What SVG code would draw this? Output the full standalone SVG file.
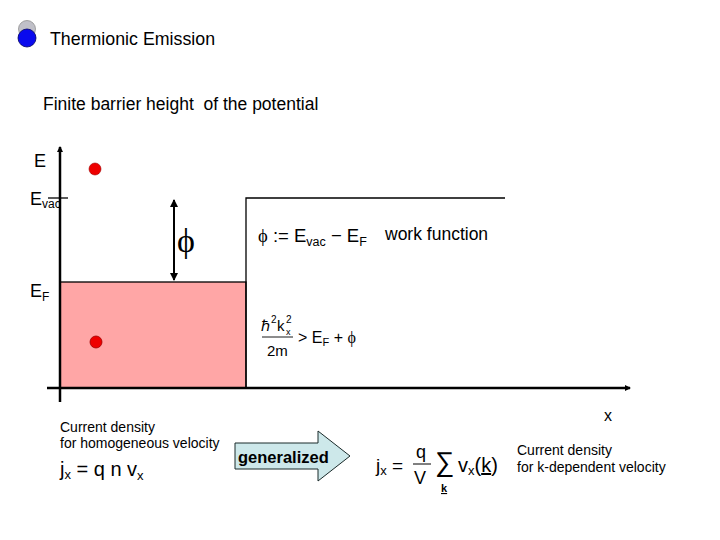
<svg xmlns="http://www.w3.org/2000/svg" width="720" height="540" viewBox="0 0 720 540">
<style>
text{font-family:"Liberation Sans",Arial,sans-serif;fill:#000}
.ax{stroke:#000;stroke-width:2.5;fill:none}
.thin{stroke:#000;stroke-width:1.3;fill:none}
.serif{font-family:"Liberation Serif","Times New Roman",serif}
.small{font-size:14px}
</style>
<defs>
<marker id="ah" markerWidth="6" markerHeight="6" refX="5" refY="3" orient="auto" markerUnits="userSpaceOnUse" viewBox="0 0 6 6">
<path d="M0,0 L6,3 L0,6 z" fill="#000"/>
</marker>
<marker id="ah2" markerWidth="8" markerHeight="8" refX="7" refY="4" orient="auto-start-reverse" markerUnits="userSpaceOnUse" viewBox="0 0 8 8">
<path d="M0,0 L8,4 L0,8 z" fill="#000"/>
</marker>
</defs>
<rect width="720" height="540" fill="#fff"/>
<g id="bullet">
<circle cx="27" cy="29" r="8.5" fill="#c0c0c8" stroke="#909090" stroke-width="0.8"/>
<circle cx="27" cy="38" r="9" fill="#0a0aee" stroke="#000060" stroke-width="0.8"/>
</g>
<g id="title"><text x="50" y="45" font-size="17.8">Thermionic Emission</text></g>
<g id="subtitle"><text x="43" y="110" font-size="17.5" xml:space="preserve">Finite barrier height  of the potential</text></g>
<g id="well">
<rect x="60" y="282" width="186" height="106" fill="#ffa6a6" stroke="#000" stroke-width="1.3"/>
</g>
<g id="barrier">
<path class="thin" d="M246,388 V198 H505"/>
<path class="thin" d="M48,198 H68"/>
</g>
<g id="connectors">
<line class="ax" x1="60" y1="402" x2="60" y2="147" marker-end="url(#ah)"/>
<line class="ax" x1="47" y1="388" x2="630" y2="388" marker-end="url(#ah)"/>
<line x1="174" y1="200" x2="174" y2="280" stroke="#000" stroke-width="2" marker-start="url(#ah2)" marker-end="url(#ah2)"/>
</g>
<g id="electron-top"><circle cx="95" cy="169" r="6" fill="#ee0000" stroke="#a00000" stroke-width="0.6"/></g>
<g id="electron-bottom"><circle cx="96" cy="342" r="6" fill="#ee0000" stroke="#a00000" stroke-width="0.8"/></g>
<g id="labels">
<text x="34" y="167" font-size="18">E</text>
<text x="30" y="205" font-size="18">E<tspan font-size="12" dy="3">vac</tspan></text>
<text x="30" y="297" font-size="18">E<tspan font-size="12" dy="4">F</tspan></text>
<text class="serif" x="177" y="252" font-size="34">ϕ</text>
<text x="604" y="421" font-size="16">x</text>
</g>
<g id="workfunction">
<text x="258" y="242" font-size="18.5"><tspan class="serif">ϕ</tspan> := E<tspan font-size="12.5" dy="4">vac</tspan><tspan dy="-4"> − E</tspan><tspan font-size="12.5" dy="4">F</tspan></text>
<text x="385" y="240" font-size="17.5">work function</text>
</g>
<g id="condition">
<text x="261" y="331" font-size="15">ℏ</text>
<text x="271" y="323" font-size="10">2</text>
<text x="277" y="331" font-size="15">k</text>
<text x="286" y="323" font-size="10">2</text>
<text x="286" y="335" font-size="9">x</text>
<line x1="262" y1="337" x2="293" y2="337" stroke="#000" stroke-width="0.9"/>
<text x="267" y="356" font-size="15">2m</text>
<text x="298" y="343" font-size="16">&gt; E<tspan font-size="11" dy="3">F</tspan><tspan dy="-3"> + <tspan class="serif">ϕ</tspan></tspan></text>
</g>
<g id="homogeneous">
<text class="small" x="60" y="432">Current density</text>
<text class="small" x="60" y="448">for homogeneous velocity</text>
<text x="60" y="476" font-size="20">j<tspan font-size="13" dy="3">x</tspan><tspan dy="-3"> = q n v</tspan><tspan font-size="13" dy="4">x</tspan></text>
</g>
<g id="generalized">
<path d="M235,443 H318 V431 L350,456 L318,481 V469 H235 Z" fill="#cde8ea" stroke="#1a2a2a" stroke-width="1"/>
<text x="238" y="463" font-size="16.5" font-weight="bold">generalized</text>
</g>
<g id="kdependent">
<text x="376" y="472" font-size="19">j<tspan font-size="13" dy="3">x</tspan><tspan dy="-3"> =</tspan></text>
<text x="416" y="458" font-size="18">q</text>
<line x1="413" y1="464" x2="431" y2="464" stroke="#000" stroke-width="1"/>
<text x="414" y="484" font-size="18">V</text>
<text x="435" y="471" font-size="27">∑</text>
<text x="441" y="492" font-size="11" font-weight="bold" text-decoration="underline">k</text>
<text x="458" y="472" font-size="20">v<tspan font-size="13" dy="3">x</tspan><tspan dy="-3">(<tspan text-decoration="underline">k</tspan>)</tspan></text>
<text class="small" x="517" y="455">Current density</text>
<text class="small" x="517" y="472">for k-dependent velocity</text>
</g>
</svg>
